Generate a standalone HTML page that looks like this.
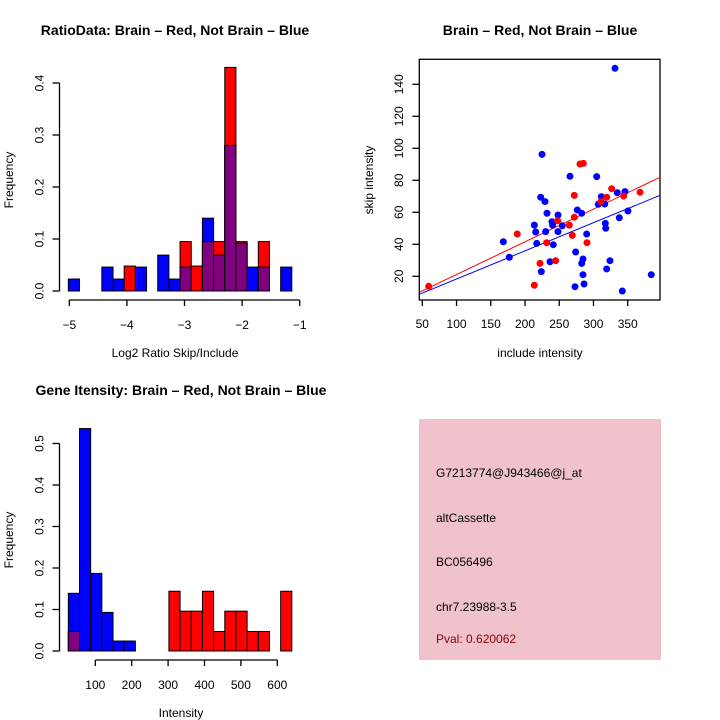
<!DOCTYPE html>
<html><head><meta charset="utf-8"><style>
html,body{margin:0;padding:0;background:#fff}
svg{display:block;font-family:"Liberation Sans",sans-serif}
</style></head><body>
<svg id="s" width="720" height="720" viewBox="0 0 720 720">
  <g id="h1"></g>
  <g id="sc"></g>
  <g id="h2"></g>
  <g>
    <rect x="419" y="419" width="242" height="241" fill="#efc2cc"/>
    <g font-size="12" fill="#000">
      <text x="436" y="477">G7213774@J943466@j_at</text>
      <text x="436" y="522">altCassette</text>
      <text x="436" y="566">BC056496</text>
      <text x="436" y="611">chr7.23988-3.5</text>
      <text x="436" y="643" fill="#8b0000">Pval: 0.620062</text>
    </g>
  </g>
</svg>
<script>
// ---------- Histogram 1 data ----------
const h1Start = -5.017, h1Width = 0.194;
const h1Blue = [0.023,0,0,0.046,0.023,0,0.046,0,0.069,0.023,0.046,0,0.14,0.069,0.28,0.092,0.046,0.046,0,0.046];
const h1Red  = [0,0,0,0,0,0.048,0,0,0,0,0.095,0.048,0.095,0.095,0.43,0.095,0,0.095,0,0];
const h1XTicks = [-5,-4,-3,-2,-1];
const h1YTicks = [0,0.1,0.2,0.3,0.4];
// ---------- Histogram 2 data ----------
const h2Start = 25.9, h2Width = 30.7;
const h2Blue = [0.139,0.536,0.187,0.093,0.024,0.024,0,0,0,0,0,0,0,0,0,0,0,0,0,0];
const h2Red  = [0.047,0,0,0,0,0,0,0,0,0.144,0.096,0.096,0.144,0.047,0.096,0.096,0.047,0.047,0,0.144];
const h2XTicks = [100,200,300,400,500,600];
const h2YTicks = [0,0.1,0.2,0.3,0.4,0.5];
// ---------- Scatter data ----------
const redX = [59.3,188.7,213.6,221.9,231.7,244.8,247.7,264.7,269.1,272,272,280.3,285.2,290.5,311,319.3,326.6,344.1,368];
const redY = [13.75,46.4,14.4,28.1,41,29.75,54.75,52,45.6,56.9,70.6,90.2,90.6,41,66.7,69.4,74.75,70.2,72.5];
const blueX = [331.4,224.8,265.7,304.7,168.3,177.1,213.6,215.6,217.1,222.9,229.2,230.2,232.1,223.8,236.5,239.4,240.4,241.3,248.2,248.2,254.5,273,274,276.4,282.8,282.8,284.7,284.7,286.2,290.1,307,311.4,316.4,317.3,317.9,319.3,324.1,334.8,346,337.7,350.4,342.1,384.4];
const blueY = [150,96.2,82.5,82.3,41.6,31.9,52,47.7,40.6,69.4,66.7,47.9,59.4,22.9,29.1,54.1,52,39.75,58.3,47.9,51.6,13.5,35.2,61.4,59.4,28.1,30.8,21,15.2,46.4,65,69.75,65.2,53.1,50,24.6,29.75,72.25,72.9,56.6,60.8,10.8,21];
const fitRed = [0.67, 0.2045];   // intercept, slope
const fitBlue = [0.73, 0.1759];
const scXTicks = [50,100,150,200,250,300,350];
const scYTicks = [20,40,60,80,100,120,140];

const NS = 'http://www.w3.org/2000/svg';
function mk(parent, tag, attrs, txt){
  const e = document.createElementNS(NS, tag);
  for (const k in attrs) e.setAttribute(k, attrs[k]);
  if (txt !== undefined) e.textContent = txt;
  parent.appendChild(e);
  return e;
}
function fmt(v, d){ return v.toFixed(d); }

function hist(g, o){
  const X = v => o.x0 + (v - o.xmin) * o.xs;
  const Y = v => o.y0 - v * o.ys;
  for (let i = 0; i < o.blue.length; i++){
    const a = o.start + i*o.width, b = a + o.width;
    const bl = o.blue[i], rd = o.red[i], mn = Math.min(bl, rd);
    const x = X(a), w = X(b) - X(a);
    if (bl > 0){
      const r = mk(g,'rect',{x:x,y:Y(bl),width:w,height:Y(0)-Y(bl),fill:'#0000ff',stroke:'#000','stroke-width':1});
      
      
    }
    if (rd > 0){
      const r = mk(g,'rect',{x:x,y:Y(rd),width:w,height:Y(0)-Y(rd),fill:'#ff0000',stroke:'#000','stroke-width':1});
      
      
    }
    if (mn > 0){
      const r = mk(g,'rect',{x:x,y:Y(mn),width:w,height:Y(0)-Y(mn),fill:'#800080',stroke:'#000','stroke-width':1});
      
      
    }
  }
  // x axis
  const xa = mk(g,'g',{stroke:'#000','stroke-width':1.3});
  
  
  const xt = o.xticks;
  mk(xa,'line',{x1:X(xt[0]),x2:X(xt[xt.length-1]),y1:o.axY,y2:o.axY});
  xt.forEach(t => {
    mk(xa,'line',{x1:X(t),x2:X(t),y1:o.axY,y2:o.axY+6});
    const l = mk(g,'text',{x:X(t),y:o.axY+29,'text-anchor':'middle','font-size':12}, o.xfmt(t));
    
    
  });
  // y axis
  const ya = mk(g,'g',{stroke:'#000','stroke-width':1.3});
  
  
  const yt = o.yticks;
  mk(ya,'line',{x1:o.axX,x2:o.axX,y1:Y(yt[0]),y2:Y(yt[yt.length-1])});
  yt.forEach(t => {
    mk(ya,'line',{x1:o.axX,x2:o.axX-7,y1:Y(t),y2:Y(t)});
    const l = mk(g,'text',{x:0,y:0,'text-anchor':'middle','font-size':12,transform:`translate(${o.axX-16},${Y(t)}) rotate(-90)`}, fmt(t,1));
    
    
  });
  const t = mk(g,'text',{x:o.cx,y:o.titleY,'text-anchor':'middle','font-size':14,'font-weight':'bold'}, o.title);
  
  
  const xl = mk(g,'text',{x:o.cx,y:o.xlabY,'text-anchor':'middle','font-size':12}, o.xlab);
  
  
  const yl = mk(g,'text',{x:0,y:0,'text-anchor':'middle','font-size':12,transform:`translate(13,${o.ylabY}) rotate(-90)`}, 'Frequency');
  
  
}

hist(document.getElementById('h1'), {
  blue:h1Blue, red:h1Red, start:h1Start, width:h1Width, xticks:h1XTicks, yticks:h1YTicks,
  x0:69.3, xmin:-5, xs:57.6, y0:291, ys:520, axY:300, axX:59.5,
  xfmt: t => (t<0?'\u2212':'') + Math.abs(t),
  title:'RatioData: Brain \u2013 Red, Not Brain \u2013 Blue', titleY:35, xlab:'Log2 Ratio Skip/Include', xlabY:357, ylabY:180, cx:175
});
hist(document.getElementById('h2'), {
  blue:h2Blue, red:h2Red, start:h2Start, width:h2Width, xticks:h2XTicks, yticks:h2YTicks,
  x0:58.9, xmin:0, xs:0.364, y0:651, ys:415, axY:660, axX:59.5,
  xfmt: t => String(t),
  title:'Gene Itensity: Brain \u2013 Red, Not Brain \u2013 Blue', titleY:395, xlab:'Intensity', xlabY:717, ylabY:540, cx:181
});

// ---------- Scatter ----------
(function(){
  const g = document.getElementById('sc');
  const X = v => 422.3 + (v - 50) * 0.6847;
  const Y = v => 276.3 - (v - 20) * 1.6;
  const L = 419.3, R = 660, T = 59.3, B = 300;
  const box = mk(g,'rect',{x:L,y:T,width:R-L,height:B-T,fill:'none',stroke:'#000','stroke-width':1.3});
  
  
  const clip = mk(g,'clipPath',{id:'scclip'});
  mk(clip,'rect',{x:L,y:T,width:R-L,height:B-T});
  const fits = [[fitRed,'#ff0000','red-fit-line'],[fitBlue,'#0000ff','blue-fit-line']];
  const xmin = 50 + (L-422.3)/0.6847, xmax = 50 + (R-422.3)/0.6847;
  fits.forEach(f => {
    const ln = mk(g,'line',{x1:X(xmin),y1:Y(f[0][0]+f[0][1]*xmin),x2:X(xmax),y2:Y(f[0][0]+f[0][1]*xmax),stroke:f[1],'stroke-width':1,'clip-path':'url(#scclip)'});
    
    
  });
  blueX.forEach((v,i) => {
    const c = mk(g,'circle',{cx:X(v),cy:Y(blueY[i]),r:3.5,fill:'#0000ff'});
    
    
  });
  redX.forEach((v,i) => {
    const c = mk(g,'circle',{cx:X(v),cy:Y(redY[i]),r:3.5,fill:'#ff0000'});
    
    
  });
  const ax = mk(g,'g',{stroke:'#000','stroke-width':1.3});
  
  
  scXTicks.forEach(t => {
    mk(ax,'line',{x1:X(t),x2:X(t),y1:B,y2:B+6});
    const l = mk(g,'text',{x:X(t),y:B+28,'text-anchor':'middle','font-size':12}, String(t));
    
    
  });
  scYTicks.forEach(t => {
    mk(ax,'line',{x1:L,x2:L-7,y1:Y(t),y2:Y(t)});
    const l = mk(g,'text',{x:0,y:0,'text-anchor':'middle','font-size':12,transform:`translate(403,${Y(t)}) rotate(-90)`}, String(t));
    
    
  });
  const t = mk(g,'text',{x:540,y:35,'text-anchor':'middle','font-size':14,'font-weight':'bold'}, 'Brain \u2013 Red, Not Brain \u2013 Blue');
  
  
  const xl = mk(g,'text',{x:540,y:357,'text-anchor':'middle','font-size':12}, 'include intensity');
  
  
  const yl = mk(g,'text',{x:0,y:0,'text-anchor':'middle','font-size':12,transform:'translate(373,180) rotate(-90)'}, 'skip intensity');
  
  
})();
</script>
</body></html>
